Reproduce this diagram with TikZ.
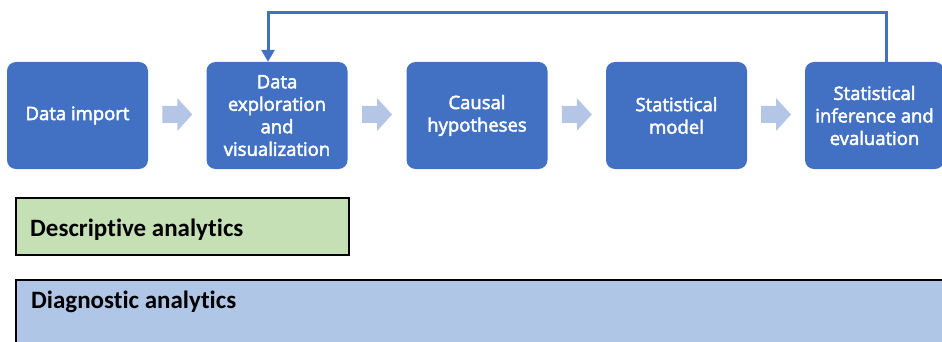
\documentclass[tikz,border=0pt]{standalone}
\usepackage{fontspec}
\setmainfont{Open Sans}
\newfontfamily\boxfont[FakeBold=2.6]{Open Sans}
\newfontfamily\cali[RawFeature=-liga]{Carlito}
\usetikzlibrary{arrows.meta,calc}
\definecolor{boxblue}{HTML}{4270C3}
\definecolor{chevblue}{HTML}{B4C5E5}
\definecolor{greenfill}{HTML}{C5E0B4}
\definecolor{lightblue}{HTML}{B0C6E7}
\tikzset{
  x=1pt, y=-1pt,
  stepbox/.style={rectangle, rounded corners=9pt, fill=boxblue, text=white,
    minimum width=141pt, minimum height=107pt, inner sep=2pt,
    align=center, font=\boxfont\fontsize{18.5}{22.5}\selectfont},
  fb/.style={draw=boxblue, line width=3pt, -{Triangle[width=13pt,length=12pt]}},
  labeltext/.style={anchor=base west, inner sep=0pt, font=\cali\bfseries\fontsize{25}{29}\selectfont},
  pics/chev/.style={code={
    \fill[chevblue] (-15,-8.5) -- (0,-8.5) -- (0,-16.5) -- (15,0) -- (0,16.5) -- (0,8.5) -- (-15,8.5) -- cycle;
  }}
}
\begin{document}
\begin{tikzpicture}
\useasboundingbox (0,0) rectangle (942,342);
\node[stepbox] (b1) at (77.5,115.5) {Data import};
\node[stepbox] (b2) at (277,115.5) {Data\\exploration\\and\\visualization};
\node[stepbox] (b3) at (477,115.5) {Causal\\hypotheses};
\node[stepbox] (b4) at (676.5,115.5) {Statistical\\model};
\node[stepbox, minimum width=139pt] (b5) at (874.5,115.5) {Statistical\\inference and\\evaluation};
\pic at ($(b1.east)!0.5!(b2.west)+(0,-1)$) {chev};
\pic at ($(b2.east)!0.5!(b3.west)+(0,-1)$) {chev};
\pic at ($(b3.east)!0.5!(b4.west)+(0,-1)$) {chev};
\pic at ($(b4.east)!0.5!(b5.west)+(0,-1)$) {chev};
\draw[fb] ([xshift=11.5pt]b5.north) -- ++(0,-49) -| ([xshift=-9pt]b2.north);
\node[draw=black, line width=1.6pt, fill=greenfill, anchor=north west,
  minimum width=333pt, minimum height=57pt, inner sep=0pt] (desc) at (15,197) {};
\node[labeltext] (desct) at (30,236) {Descriptive analytics};
\node[draw=black, line width=1.6pt, fill=lightblue, anchor=north west,
  minimum width=960pt, minimum height=90pt, inner sep=0pt] (diag) at (15,279) {};
\node[labeltext] (diagt) at (31,308) {Diagnostic analytics};
\end{tikzpicture}
\end{document}
